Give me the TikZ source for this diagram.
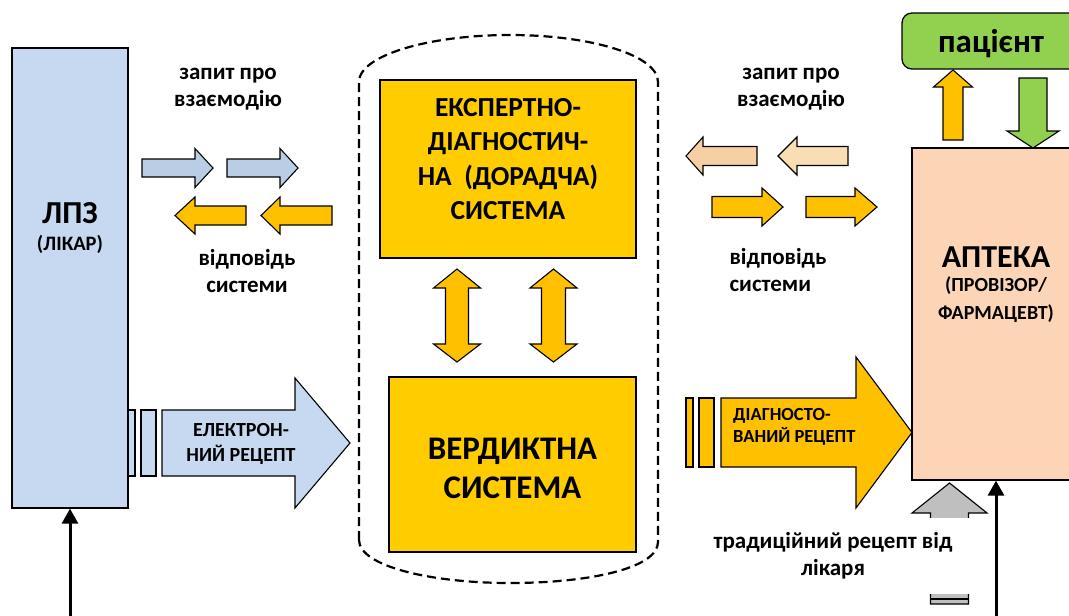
\documentclass[tikz,border=0pt]{standalone}
\usepackage{fontspec}
\setmainfont{Carlito}
\definecolor{lpzblue}{HTML}{C6D9F1}
\definecolor{reqblue}{HTML}{B9CDE5}
\definecolor{amber}{HTML}{FFC000}
\definecolor{sysyellow}{HTML}{FFCC00}
\definecolor{tanA}{HTML}{F6D0A4}
\definecolor{tanB}{HTML}{F9DEB3}
\definecolor{pharm}{HTML}{FBD5B5}
\definecolor{leaf}{HTML}{92D050}
\definecolor{ash}{HTML}{BFBFBF}
% horizontal block arrow: tail x, head base x, tip x, centre y, half shaft, half head
\newcommand{\harrow}[7][]{%
  \draw[blockarrow,#1] (#2,{#5-#6}) -- (#3,{#5-#6}) -- (#3,{#5-#7}) -- (#4,#5)
    -- (#3,{#5+#7}) -- (#3,{#5+#6}) -- (#2,{#5+#6}) -- cycle;}
% vertical block arrow: tail y, head base y, tip y, centre x, half shaft, half head
\newcommand{\varrow}[7][]{%
  \draw[blockarrow,#1] ({#5-#6},#2) -- ({#5-#6},#3) -- ({#5-#7},#3) -- (#5,#4)
    -- ({#5+#7},#3) -- ({#5+#6},#3) -- ({#5+#6},#2) -- cycle;}
% vertical double arrow: top tip, top base, bottom base, bottom tip, centre x, half shaft, half head
\newcommand{\dvarrow}[8][]{%
  \draw[blockarrow,#1] (#6,#2) -- ({#6+#8},#3) -- ({#6+#7},#3) -- ({#6+#7},#4)
    -- ({#6+#8},#4) -- (#6,#5) -- ({#6-#8},#4) -- ({#6-#7},#4) -- ({#6-#7},#3)
    -- ({#6-#8},#3) -- cycle;}
\tikzset{
  blockarrow/.style={draw=black, line width=1.1pt, line join=miter},
  unit/.style={draw=black, line width=1.3pt, inner sep=0pt},
  caption/.style={font=\bfseries, align=center, inner sep=0pt},
  lbl/.style={font=\bfseries\fontsize{23}{27}\selectfont, align=center, inner sep=0pt},
  flow/.style={line width=3pt, -{Triangle[length=15pt,width=16pt]}},
}
\usetikzlibrary{arrows.meta}
\begin{document}
\begin{tikzpicture}[x=1pt,y=-1pt]
\useasboundingbox (0,0) rectangle (1069,616);
\clip (0,0) rectangle (1069,616);

% ---- medical institution (doctor) ----
\node[unit, fill=lpzblue, minimum width=116pt, minimum height=460pt] (lpz) at (70,278) {};
\node[caption, font=\bfseries\fontsize{32}{32}\selectfont] (lpzname) at (70,213) {ЛПЗ};
\node[caption, font=\bfseries\fontsize{20.5}{20.5}\selectfont] (lpzrole) at (70,244) {(ЛІКАР)};
\coordinate (docin) at (70,625);
\draw[flow] (docin) -- (lpz.south);

% request / response between doctor and system
\node[lbl] (reqL) at (228,89) {запит про\\взаємодію};
\node[lbl] (ansL) at (247,271) {відповідь\\системи};
\harrow[fill=reqblue]{142}{195}{213}{168}{9}{19.5}
\harrow[fill=reqblue]{227}{280}{298}{168}{9}{19.5}
\harrow[fill=amber]{246}{195}{175}{215.5}{9.5}{18.5}
\harrow[fill=amber]{332}{280}{261}{215.5}{9.5}{18.5}

% electronic prescription
\draw[blockarrow, fill=lpzblue] (128,410) rectangle (135,476);
\draw[blockarrow, fill=lpzblue] (141,410) rectangle (156,476);
\harrow[fill=lpzblue]{162}{295}{350}{443}{33}{65}
\node[caption, font=\bfseries\fontsize{20}{25.5}\selectfont] (erx) at (241,444) {ЕЛЕКТРОН-\\НИЙ РЕЦЕПТ};

% ---- decision support container ----
\draw[line width=2.2pt, dash pattern=on 9pt off 5pt]
  (359,540) -- (359,82) .. controls (359,55) and (430,35) .. (510,35)
  .. controls (590,35) and (658,55) .. (658,82) -- (658,542)
  .. controls (658,568) and (590,583) .. (510,583)
  .. controls (430,583) and (359,566) .. (359,540) -- cycle;
\node[unit, fill=sysyellow, minimum width=256pt, minimum height=178pt] (expert) at (508,169) {};
\node[caption, font=\bfseries\fontsize{27.5}{34.5}\selectfont] (expertname) at (508,159)
  {ЕКСПЕРТНО-\\ДІАГНОСТИЧ-\\НА~~(ДОРАДЧА)\\СИСТЕМА};
\node[unit, fill=sysyellow, minimum width=247pt, minimum height=175pt] (verdict) at (512.5,464.5) {};
\node[caption, font=\bfseries\fontsize{33}{39}\selectfont] (verdictname) at (512.5,468.5)
  {ВЕРДИКТНА\\СИСТЕМА};
\dvarrow[fill=amber]{269}{288}{344}{362}{457}{11.5}{23.5}
\dvarrow[fill=amber]{269}{288}{344}{362}{553.5}{12}{23.5}

% request / response between pharmacy and system
\node[lbl] (reqR) at (791,89) {запит про\\взаємодію};
\node[lbl, align=left] (ansR) at (778,270) {відповідь\\системи};
\harrow[fill=tanA]{757}{703}{686}{156}{9.5}{19}
\harrow[fill=tanB]{848}{797}{778}{156}{9.5}{19}
\harrow[fill=amber]{712}{762}{783}{207}{10.5}{19}
\harrow[fill=amber]{806}{855}{877}{207}{10.5}{19}

% diagnosed prescription
\draw[blockarrow, fill=amber] (686,398) rectangle (693,467);
\draw[blockarrow, fill=amber] (699,398) rectangle (714,467);
\harrow[fill=amber]{721}{856}{912}{432.5}{34.5}{75.5}
\node[caption, font=\bfseries\fontsize{18.5}{22}\selectfont, align=left, anchor=west] (drx) at (733,427) {ДІАГНОСТО-\\ВАНИЙ РЕЦЕПТ};

% ---- pharmacy and patient ----
\node[unit, fill=pharm, minimum width=168pt, minimum height=332pt] (pharmacy) at (996,314) {};
\node[caption, font=\bfseries\fontsize{32}{32}\selectfont] (phname) at (996,257) {АПТЕКА};
\node[caption, font=\bfseries\fontsize{20}{28}\selectfont] (phrole) at (996,300) {(ПРОВІЗОР/\\ФАРМАЦЕВТ)};
\node[unit, fill=leaf, rounded corners=10pt, minimum width=178pt, minimum height=56pt] (patient) at (991,41) {};
\node[caption, font=\bfseries\fontsize{33}{33}\selectfont] (patientname) at (991,44) {пацієнт};
\varrow[fill=amber]{140}{87}{70}{953}{10}{19.5}
\varrow[fill=leaf]{78}{131}{148}{1033}{14}{26}

% traditional paper prescription
\varrow[fill=ash]{604}{513}{483}{949.5}{19}{37.5}
\draw[blockarrow] (930.5,599) -- (968.5,599);
\node[lbl, fill=white, minimum height=76pt, minimum width=284pt] (paper) at (833,556) {\fontsize{23}{28}\selectfont традиційний рецепт від\\лікаря};
\coordinate (paperin) at (996,625);
\draw[flow] (paperin) -- (pharmacy.south -| paperin);
\end{tikzpicture}
\end{document}
